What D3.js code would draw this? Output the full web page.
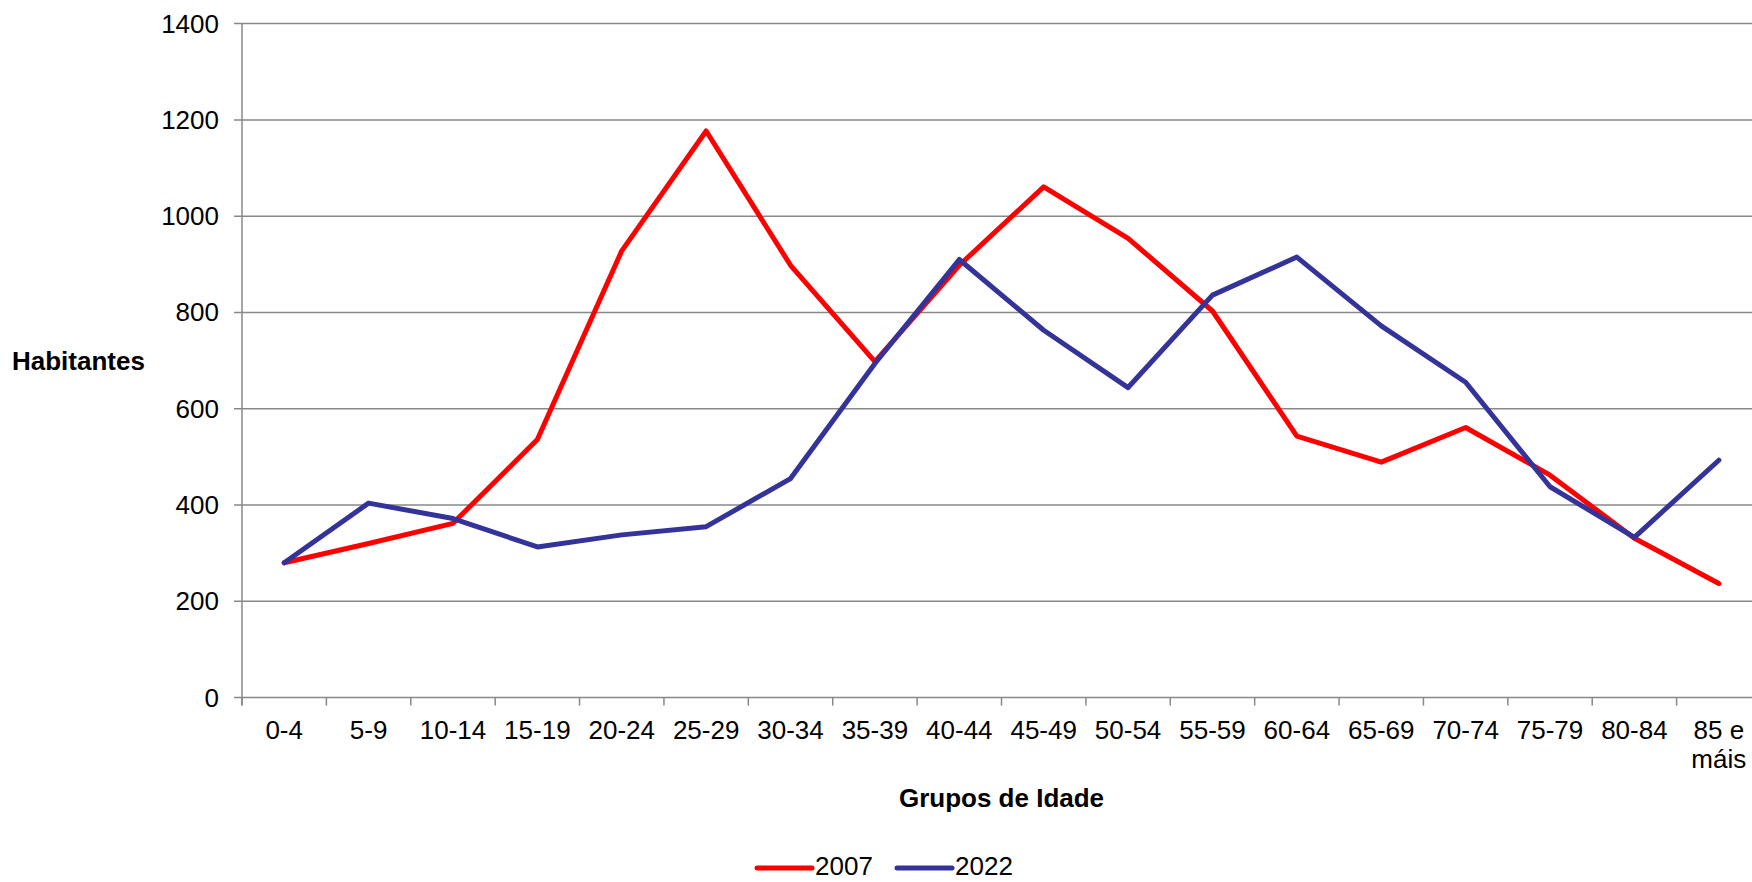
<!DOCTYPE html>
<html>
<head>
<meta charset="utf-8">
<script src="https://cdn.jsdelivr.net/npm/d3@7"></script>
<style>
  body { margin: 0; background: #fff; }
  svg { display: block; font-family: "Liberation Sans", Arial, sans-serif; }
</style>
</head>
<body>
<svg id="chart"></svg>
<script>
// age groups on the x axis
const categories = ["0-4", "5-9", "10-14", "15-19", "20-24", "25-29", "30-34", "35-39", "40-44",
  "45-49", "50-54", "55-59", "60-64", "65-69", "70-74", "75-79", "80-84", "85 e máis"];

// inhabitants per group
const values2007 = [280, 320, 362, 536, 928, 1177, 898, 698, 898, 1061, 954, 803, 543, 489, 561, 462, 331, 237];
const values2022 = [280, 404, 372, 313, 338, 355, 455, 694, 910, 763, 644, 836, 915, 772, 655, 438, 333, 493];

const yTicks = [0, 200, 400, 600, 800, 1000, 1200, 1400];

const series = [
  { name: "2007", values: values2007, color: "#ff0000" },
  { name: "2022", values: values2022, color: "#333399" },
];

const W = 1752, H = 882;
const plot = { left: 242, right: 1761, top: 23.6, bottom: 697.6 };
const fontSize = 26;
const gridColor = "#888888";

const svg = d3.select("#chart").attr("width", W).attr("height", H);

const x = d3.scaleBand().domain(categories).range([plot.left, plot.right]);
const y = d3.scaleLinear().domain([0, 1400]).range([plot.bottom, plot.top]);

// horizontal gridlines + y ticks
svg.append("g")
  .selectAll("line")
  .data(yTicks)
  .enter()
  .append("line")
  .attr("x1", plot.left - 8)
  .attr("x2", plot.right)
  .attr("y1", (d) => y(d))
  .attr("y2", (d) => y(d))
  .attr("stroke", gridColor)
  .attr("stroke-width", 1.5);

svg.append("g")
  .selectAll("text")
  .data(yTicks)
  .enter()
  .append("text")
  .attr("x", 219)
  .attr("y", (d) => y(d) + 9)
  .attr("text-anchor", "end")
  .style("font-size", fontSize + "px")
  .text((d) => d);

// y axis line
svg.append("line")
  .attr("x1", plot.left).attr("x2", plot.left)
  .attr("y1", plot.top).attr("y2", plot.bottom + 8)
  .attr("stroke", gridColor)
  .attr("stroke-width", 1.5);

// x tick marks at band boundaries
const boundaries = categories.map((c) => x(c)).concat([plot.right]);
svg.append("g")
  .selectAll("line")
  .data(boundaries)
  .enter()
  .append("line")
  .attr("x1", (d) => d).attr("x2", (d) => d)
  .attr("y1", plot.bottom).attr("y2", plot.bottom + 8)
  .attr("stroke", gridColor)
  .attr("stroke-width", 1.5);

// x labels, wrapped to band width
const measure = svg.append("text").style("font-size", fontSize + "px");
function wrap(label) {
  const words = label.split(" ");
  const lines = [];
  let cur = "";
  words.forEach((w) => {
    const test = cur ? cur + " " + w : w;
    measure.text(test);
    if (cur && measure.node().getComputedTextLength() > x.bandwidth()) {
      lines.push(cur);
      cur = w;
    } else {
      cur = test;
    }
  });
  lines.push(cur);
  return lines;
}

const xLabels = svg.append("g")
  .selectAll("text")
  .data(categories)
  .enter()
  .append("text")
  .attr("text-anchor", "middle")
  .style("font-size", fontSize + "px");

xLabels.each(function (d) {
  const cx = x(d) + x.bandwidth() / 2;
  wrap(d).forEach((line, i) => {
    d3.select(this)
      .append("tspan")
      .attr("x", cx)
      .attr("y", 739 + i * 29)
      .text(line);
  });
});
measure.remove();

// lines
const line = d3.line()
  .x((d, i) => x(categories[i]) + x.bandwidth() / 2)
  .y((d) => y(d));

svg.append("g")
  .selectAll("path")
  .data(series)
  .enter()
  .append("path")
  .attr("d", (d) => line(d.values))
  .attr("fill", "none")
  .attr("stroke", (d) => d.color)
  .attr("stroke-width", 5)
  .attr("stroke-linejoin", "round")
  .attr("stroke-linecap", "round");

// axis titles
svg.append("text")
  .attr("x", 12)
  .attr("y", (plot.top + plot.bottom) / 2 + 9)
  .style("font-size", fontSize + "px")
  .style("font-weight", "bold")
  .text("Habitantes");

svg.append("text")
  .attr("x", (plot.left + plot.right) / 2)
  .attr("y", 807)
  .attr("text-anchor", "middle")
  .style("font-size", fontSize + "px")
  .style("font-weight", "bold")
  .text("Grupos de Idade");

// legend
const legend = svg.append("g")
  .selectAll("g")
  .data(series)
  .enter()
  .append("g")
  .attr("transform", (d, i) => `translate(${757 + i * 140}, 868)`);

legend.append("line")
  .attr("x1", 0).attr("x2", 55)
  .attr("y1", 0).attr("y2", 0)
  .attr("stroke", (d) => d.color)
  .attr("stroke-width", 5)
  .attr("stroke-linecap", "round");

legend.append("text")
  .attr("x", 58)
  .attr("y", 7)
  .style("font-size", fontSize + "px")
  .text((d) => d.name);
</script>
</body>
</html>
